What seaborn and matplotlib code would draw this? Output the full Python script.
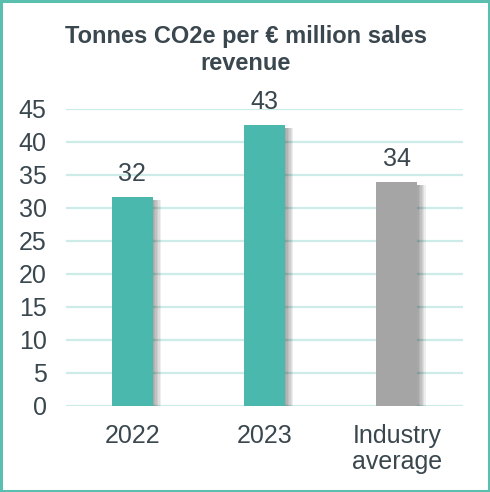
import matplotlib
matplotlib.use("Agg")
import matplotlib.pyplot as plt
import matplotlib.patheffects as pe
from matplotlib.patches import Rectangle
import seaborn as sns
import pandas as pd

categories = ["2022", "2023", "Industry\naverage"]
values = [31.6, 42.6, 33.9]
bar_colors = ["#4BB8AD", "#4BB8AD", "#A5A5A5"]
y_ticks = [0, 5, 10, 15, 20, 25, 30, 35, 40, 45]
title = "Tonnes CO2e per € million sales\nrevenue"

TEXT = "#3A474E"
GRID = "#CDEBE7"
BORDER = "#5BBFB0"

sns.set_theme(style="white")
plt.rcParams["font.family"] = ["Liberation Sans", "DejaVu Sans"]

df = pd.DataFrame({"category": categories, "value": values})

fig = plt.figure(figsize=(4.9, 4.92), dpi=100)
ax = fig.add_axes([0.1347, 0.1748, 0.8102, 0.6037])

sns.barplot(data=df, x="category", y="value", hue="category",
            palette=bar_colors, width=0.31, legend=False, ax=ax,
            saturation=1, zorder=3)

# soft drop shadow to the right of and below each bar
shadow = [pe.SimplePatchShadow(offset=(dx, -2.2), shadow_rgbFace="#000000", alpha=0.065)
          for dx in (6.0, 5.0, 4.0, 3.0, 2.0, 1.0)]
for p in ax.patches:
    p.set_path_effects(shadow + [pe.Normal()])
    p.set_linewidth(0)

ax.set_xlim(-0.5, 2.5)
ax.set_ylim(0, 45)
ax.set_yticks(y_ticks)
ax.yaxis.grid(True, color=GRID, linewidth=1.6, zorder=0)
ax.set_axisbelow(True)
for s in ax.spines.values():
    s.set_visible(False)
ax.set_xlabel("")
ax.set_ylabel("")
ax.tick_params(axis="y", length=0, pad=14, labelsize=18, labelcolor=TEXT)
ax.tick_params(axis="x", length=0, pad=13, labelsize=18, labelcolor=TEXT)
ax.set_xticks(range(len(categories)))
ax.set_xticklabels(categories, linespacing=1.1, va="top")

for i, v in enumerate(values):
    ax.annotate(f"{v:.0f}", xy=(i, v), xytext=(0, 8), textcoords="offset points",
                ha="center", va="bottom", fontsize=18, color=TEXT)

fig.text(0.502, 0.95, title, ha="center", va="top", fontsize=17,
         fontweight="bold", color=TEXT, linespacing=1.25)

fig.patches.append(Rectangle((0.002, 0.002), 0.996, 0.996, transform=fig.transFigure,
                             fill=False, edgecolor=BORDER, linewidth=2.2))

fig.savefig("out.png", dpi=100)
